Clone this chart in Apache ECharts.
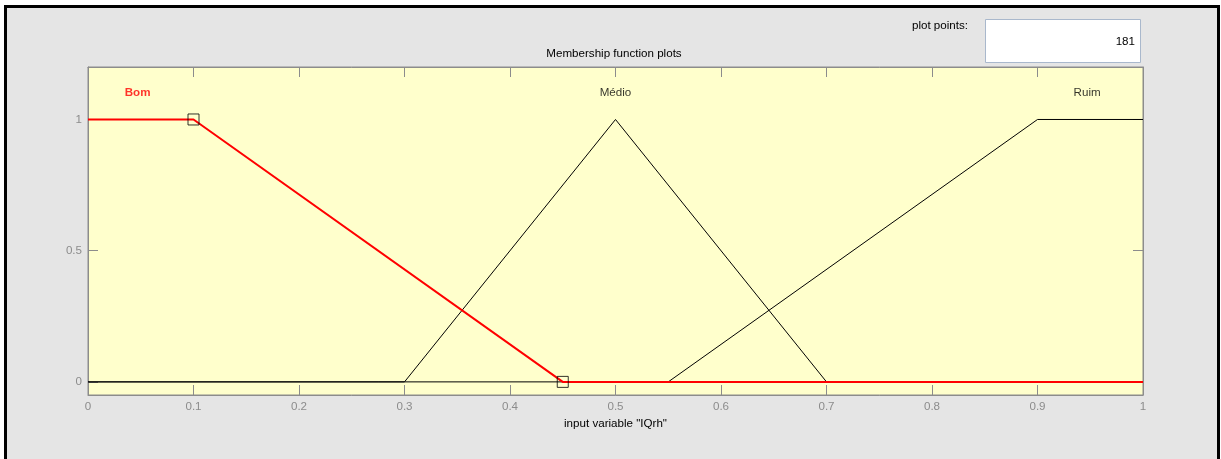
<!DOCTYPE html>
<html>
<head>
<meta charset="utf-8">
<script src="https://cdn.jsdelivr.net/npm/echarts@6/dist/echarts.min.js"></script>
<style>
html,body{margin:0;padding:0;background:#ffffff;}
#chart{width:1221px;height:459px;}
</style>
</head>
<body>
<div id="chart"></div>
<script>
// Data
const xTicks = [0, 0.1, 0.2, 0.3, 0.4, 0.5, 0.6, 0.7, 0.8, 0.9, 1];
const yTicks = [0, 0.5, 1];
const bomX = [0, 0.1, 0.45, 1];
const bomY = [1, 1, 0, 0];
const medioX = [0, 0.3, 0.5, 0.7, 1];
const medioY = [0, 0, 1, 0, 0];
const ruimX = [0, 0.55, 0.9, 1];
const ruimY = [0, 0, 1, 1];
const handleX = [0.1, 0.45];
const handleY = [1, 0];
const mfNames = ['Bom', 'Médio', 'Ruim'];
const mfLabelX = [0.047, 0.5, 0.947];
const mfLabelY = [1.1, 1.1, 1.1];
const plotPoints = '181';

const zip = (xs, ys) => xs.map((x, i) => [x, ys[i]]);

const chart = echarts.init(document.getElementById('chart'), null, {renderer: 'canvas'});
const FONT = 'Liberation Sans, Arial, sans-serif';
const FS = 11.6;
const gridL = 88, gridR = 78, gridT = 67, gridB = 64;
const AX = '#8c8c8c';

const option = {
  backgroundColor: '#ffffff',
  animation: false,
  textStyle: {fontFamily: FONT},
  graphic: [
    {type: 'rect', z: -10, shape: {x: 7, y: 8, width: 1210, height: 451}, style: {fill: '#e5e5e5'}, silent: true},
    {type: 'polyline', z: 10, shape: {points: [[5.5, 459], [5.5, 6.5], [1218.5, 6.5], [1218.5, 459]]}, style: {stroke: '#000000', lineWidth: 3, fill: null}, silent: true},
    {type: 'rect', z: 5, shape: {x: 985.5, y: 19.5, width: 155, height: 43}, style: {fill: '#ffffff', stroke: '#a9b8cc', lineWidth: 1}, silent: true},
    {type: 'text', z: 6, x: 1135, y: 42, style: {text: plotPoints, fill: '#000000', font: FS + 'px ' + FONT, align: 'right', verticalAlign: 'middle'}, silent: true},
    {type: 'text', z: 6, x: 968, y: 26, style: {text: 'plot points:', fill: '#000000', font: FS + 'px ' + FONT, align: 'right', verticalAlign: 'middle'}, silent: true}
  ],
  title: {
    text: 'Membership function plots',
    left: 609, top: 43, textAlign: 'center',
    textStyle: {fontSize: FS, fontWeight: 'normal', color: '#000000', fontFamily: FONT}
  },
  grid: {
    left: gridL, right: gridR, top: gridT, bottom: gridB,
    show: true, backgroundColor: '#ffffcc', borderColor: AX, borderWidth: 1
  },
  xAxis: [
    {
      type: 'value', min: 0, max: 1, interval: 0.1, position: 'bottom',
      name: 'input variable "IQrh"', nameLocation: 'middle', nameGap: 22,
      nameTextStyle: {fontSize: FS, color: '#000000', fontFamily: FONT},
      axisLine: {show: true, onZero: false, lineStyle: {color: AX}},
      axisTick: {show: true, inside: true, length: 10, lineStyle: {color: AX}},
      axisLabel: {show: true, color: AX, fontSize: FS, margin: 6, fontFamily: FONT,
        formatter: v => xTicks.some(t => Math.abs(t - v) < 1e-9) ? String(+v.toFixed(1)) : ''},
      splitLine: {show: false}
    },
    {
      type: 'value', min: 0, max: 1, interval: 0.1, position: 'top',
      axisLine: {show: true, onZero: false, lineStyle: {color: AX}},
      axisTick: {show: true, inside: true, length: 10, lineStyle: {color: AX}},
      axisLabel: {show: false},
      splitLine: {show: false}
    }
  ],
  yAxis: [
    {
      type: 'value', min: -0.05, max: 1.2, position: 'left',
      axisLine: {show: true, onZero: false, lineStyle: {color: AX}},
      axisTick: {show: true, inside: true, length: 10, customValues: yTicks, lineStyle: {color: AX}},
      axisLabel: {show: true, color: AX, fontSize: FS, margin: 6, customValues: yTicks, fontFamily: FONT,
        formatter: v => String(v)},
      splitLine: {show: false}
    },
    {
      type: 'value', min: -0.05, max: 1.2, position: 'right',
      axisLine: {show: true, onZero: false, lineStyle: {color: AX}},
      axisTick: {show: true, inside: true, length: 10, customValues: yTicks, lineStyle: {color: AX}},
      axisLabel: {show: false, customValues: yTicks},
      splitLine: {show: false}
    }
  ],
  series: [
    {
      name: 'Médio', type: 'line', data: zip(medioX, medioY), showSymbol: false, symbol: 'none',
      lineStyle: {color: '#000000', width: 1}, z: 2
    },
    {
      name: 'Ruim', type: 'line', data: zip(ruimX, ruimY), showSymbol: false, symbol: 'none',
      lineStyle: {color: '#000000', width: 1}, z: 2
    },
    {
      name: 'Bom', type: 'line', data: zip(bomX, bomY), showSymbol: false, symbol: 'none',
      lineStyle: {color: '#ff0000', width: 2}, z: 3
    },
    {
      name: 'handles', type: 'scatter', data: zip(handleX, handleY), symbol: 'rect', symbolSize: 11,
      itemStyle: {color: 'rgba(0,0,0,0)', borderColor: '#000000', borderWidth: 1}, z: 4
    },
    {
      name: 'labels', type: 'scatter', symbolSize: 0,
      data: mfNames.map((n, i) => ({
        value: [mfLabelX[i], mfLabelY[i]], name: n,
        label: {color: i === 0 ? '#ff0000' : '#000000', fontWeight: i === 0 ? 'bold' : 'normal'}
      })),
      label: {show: true, position: 'inside', formatter: p => p.name, fontSize: FS, fontFamily: FONT},
      z: 5, silent: true
    }
  ]
};
chart.setOption(option);
</script>
</body>
</html>
